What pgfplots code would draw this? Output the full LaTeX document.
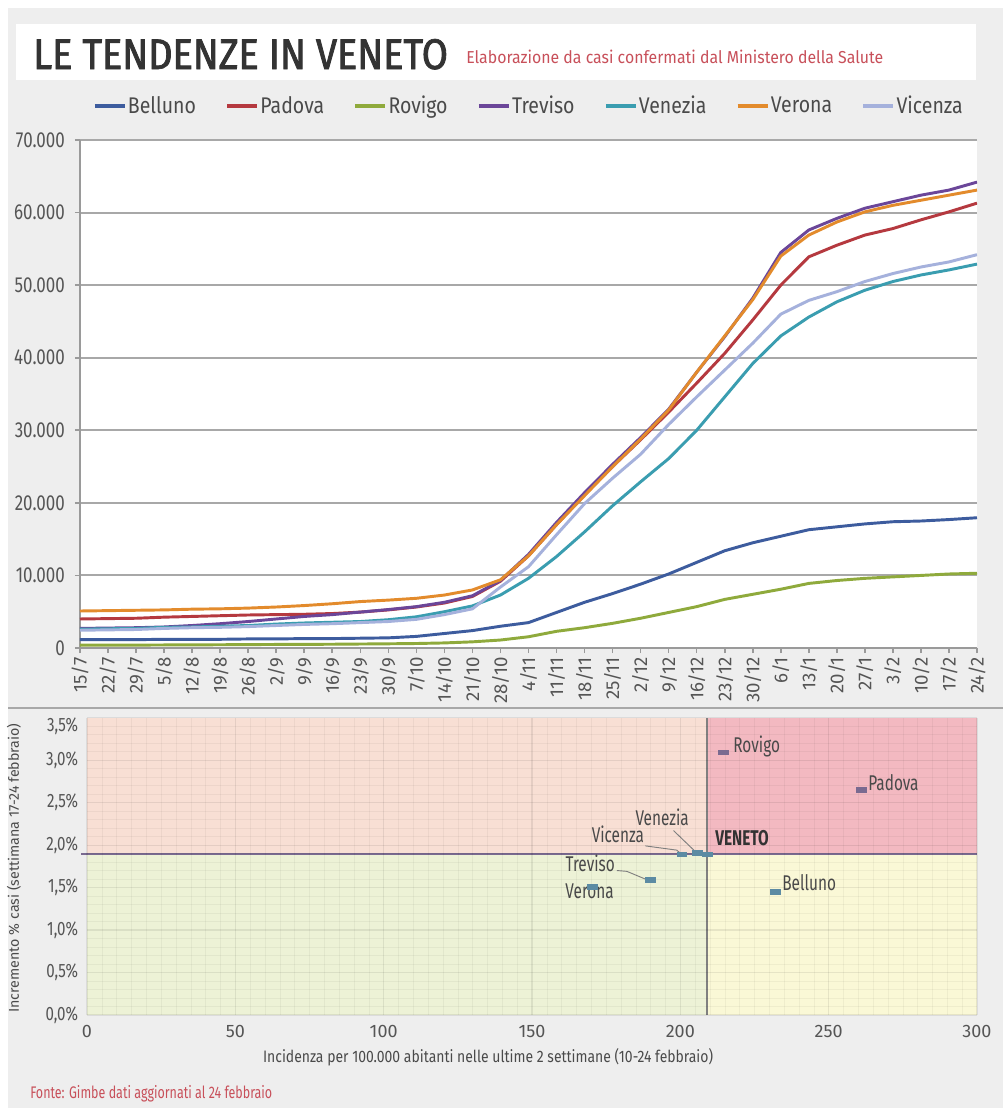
\documentclass[border=0pt]{standalone}
\usepackage{pgfplots}
\usepackage{pgfplotstable}
\pgfplotsset{compat=1.18}
\usepackage{fontspec}
\setmainfont{Fira Sans}
\newfontfamily\fN{Fira Sans}[FakeStretch=0.72]
\newfontfamily\fT{Fira Sans}[FakeStretch=0.72, FakeBold=1.6]
\newfontfamily\fY{Fira Sans}[FakeStretch=0.78]
\newfontfamily\fL{Fira Sans}[FakeStretch=0.86]

\definecolor{bg}{HTML}{EEEEEE}
\definecolor{titlec}{HTML}{333333}
\definecolor{subc}{HTML}{C8505A}
\definecolor{tickc}{HTML}{555555}
\definecolor{gridc}{HTML}{A8A8A8}
\definecolor{axc}{HTML}{9A9A9A}
\definecolor{cBelluno}{HTML}{3D5C9E}
\definecolor{cPadova}{HTML}{B5393F}
\definecolor{cRovigo}{HTML}{8FAA3C}
\definecolor{cTreviso}{HTML}{6B4699}
\definecolor{cVenezia}{HTML}{3A9DB0}
\definecolor{cVerona}{HTML}{E38B2C}
\definecolor{cVicenza}{HTML}{A5B1DC}
\definecolor{qTL}{HTML}{F8DFD4}
\definecolor{qTR}{HTML}{F3B9C1}
\definecolor{qBL}{HTML}{EDF2D6}
\definecolor{qBR}{HTML}{FAF8D6}
\definecolor{mkA}{HTML}{7A6A90}
\definecolor{mkB}{HTML}{5C8BA3}
\definecolor{labc}{HTML}{4A4A4A}

% cumulative cases, weekly from 15/7 (day 0) to 24/2 (day 224)
\pgfplotstableread{
day Belluno Padova Rovigo Treviso Venezia Verona Vicenza
0   1150  4000  400   2700  2600  5100  2450
7   1150  4050  400   2750  2650  5150  2500
14  1150  4100  400   2800  2700  5200  2550
21  1200  4250  420   2900  2850  5250  2700
28  1200  4350  430   3100  2900  5350  2800
35  1200  4450  450   3350  3000  5400  2850
42  1250  4550  470   3650  3100  5500  2950
49  1250  4600  490   4000  3300  5650  3100
56  1300  4650  500   4350  3450  5850  3250
63  1300  4750  520   4600  3550  6100  3350
70  1350  4950  550   4950  3650  6400  3500
77  1400  5250  580   5300  3900  6600  3650
84  1600  5650  620   5700  4300  6850  3950
91  2000  6200  700   6300  5000  7300  4600
98  2400  7100  850   7200  5800  8000  5400
105 3000  9200  1100  9300  7300  9400  8400
112 3500  12700 1550  12900 9600  12700 11200
119 4900  17000 2300  17300 12600 17000 15600
126 6300  21100 2800  21400 16000 21000 19900
133 7500  25000 3400  25300 19600 25000 23400
140 8800  28700 4100  29000 22900 28800 26700
147 10200 32500 4900  32900 26100 32800 30800
154 11800 36500 5700  38000 30000 38000 34600
161 13400 40600 6700  42900 34600 43000 38300
168 14500 45200 7400  48200 39200 48000 42000
175 15400 50000 8100  54500 43000 54000 46000
182 16300 53900 8900  57600 45600 56900 47900
189 16700 55500 9300  59200 47700 58700 49100
196 17100 56900 9600  60600 49300 60100 50500
203 17400 57800 9800  61500 50500 61000 51600
210 17500 59000 10000 62400 51400 61700 52500
217 17700 60100 10200 63100 52100 62400 53200
224 17950 61300 10300 64200 52900 63100 54200
}\cases

\begin{document}
\begin{tikzpicture}[x=0.75pt,y=0.75pt]
% page and panels (1 unit = 1 reference pixel)
\fill[white] (0,0) rectangle (1003,-1108);
\fill[bg] (8,-8) rectangle (1003,-1108);
\fill[white] (16,-24) rectangle (976,-80);
\node[anchor=base west, inner sep=0pt, text=titlec] at (33,-69)
  {\resizebox{311pt}{22.5pt}{\fT LE TENDENZE IN VENETO}};
\node[anchor=base west, inner sep=0pt, text=subc] at (466,-63.5)
  {\resizebox{312.75pt}{10.1pt}{\fN Elaborazione da casi confermati dal Ministero della Salute}};
\draw[gridc, line width=1.9pt] (8,-708) -- (1003,-708);
\node[anchor=base west, inner sep=0pt, text=subc] at (30,-1098)
  {\resizebox{181.5pt}{9.8pt}{\fN Fonte: Gimbe dati aggiornati al 24 febbraio}};

% ---- top: cumulative cases
\begin{axis}[
    at={(60pt,-486pt)}, anchor=south west,
    scale only axis, width=672.75pt, height=381pt,
    xmin=0, xmax=224, ymin=0, ymax=70000,
    axis background/.style={fill=white},
    axis x line*=bottom, axis y line*=left,
    axis line style={draw=axc, line width=1.5pt},
    ymajorgrids, grid style={draw=gridc, line width=1.5pt},
    xtick={0,7,...,224},
    xticklabels={15/7,22/7,29/7,5/8,12/8,19/8,26/8,2/9,9/9,16/9,23/9,30/9,7/10,14/10,21/10,28/10,4/11,11/11,18/11,25/11,2/12,9/12,16/12,23/12,30/12,6/1,13/1,20/1,27/1,3/2,10/2,17/2,24/2},
    ytick={0,10000,...,70000},
    yticklabels={0,10.000,20.000,30.000,40.000,50.000,60.000,70.000},
    scaled y ticks=false,
    tick align=outside, major tick length=3.75pt,
    tick style={draw=axc, line width=1.2pt},
    xticklabel style={rotate=90, anchor=east, inner sep=0pt,
        font=\fontsize{14}{14}\selectfont, text=tickc},
    xticklabel shift=3pt,
    yticklabel style={anchor=east, inner sep=0pt,
        font=\fY\fontsize{16.3}{16.3}\selectfont, text=tickc},
    yticklabel shift=7.5pt,
    legend columns=7,
    legend style={at={(axis description cs:0.5,1.0675)}, anchor=center,
        draw=none, fill=none, inner sep=0pt,
        font=\fL\fontsize{17}{17}\selectfont,
        nodes={text=labc, inner sep=1pt},
        /tikz/every even column/.append style={column sep=21pt}},
    legend image code/.code={\draw[#1, line width=2.8pt] (0pt,0pt) -- (22.5pt,0pt);},
  ]
  \addplot[cBelluno, line width=2.2pt] table[x=day, y=Belluno] {\cases};
  \addlegendentry{Belluno}
  \addplot[cPadova, line width=2.2pt] table[x=day, y=Padova] {\cases};
  \addlegendentry{Padova}
  \addplot[cRovigo, line width=2.2pt] table[x=day, y=Rovigo] {\cases};
  \addlegendentry{Rovigo}
  \addplot[cTreviso, line width=2.2pt] table[x=day, y=Treviso] {\cases};
  \addlegendentry{Treviso}
  \addplot[cVenezia, line width=2.2pt] table[x=day, y=Venezia] {\cases};
  \addlegendentry{Venezia}
  \addplot[cVerona, line width=2.2pt] table[x=day, y=Verona] {\cases};
  \addlegendentry{Verona}
  \addplot[cVicenza, line width=2.2pt] table[x=day, y=Vicenza] {\cases};
  \addlegendentry{Vicenza}
\end{axis}

% ---- bottom: incidence vs weekly increment
\begin{axis}[
    at={(65.25pt,-761.25pt)}, anchor=south west,
    scale only axis, width=667.5pt, height=223.1pt,
    xmin=0, xmax=300, ymin=0, ymax=3.5,
    axis on top, clip=false,
    axis line style={draw=none},
    tick style={draw=none},
    xtick={0,50,...,300},
    xticklabels={0,50,100,150,200,250,300},
    ytick={0,0.5,...,3.5},
    yticklabels={{0,0\%},{0,5\%},{1,0\%},{1,5\%},{2,0\%},{2,5\%},{3,0\%},{\raisebox{-5.6pt}[\height][0pt]{3,5\%}}},
    minor x tick num=9, minor y tick num=4,
    xmajorgrids, ymajorgrids, xminorgrids, yminorgrids,
    major grid style={draw=black, opacity=0.08, line width=0.8pt},
    minor grid style={draw=black, opacity=0.045, line width=0.4pt},
    xticklabel style={inner sep=0pt, font=\fontsize{13.5}{13.5}\selectfont, text=tickc},
    xticklabel shift=7.5pt,
    yticklabel style={inner sep=0pt, font=\fY\fontsize{14.5}{14.5}\selectfont, text=tickc},
    yticklabel shift=6.5pt,
    xlabel={\resizebox{337.5pt}{10.5pt}{\fN Incidenza per 100.000 abitanti nelle ultime 2 settimane (10-24 febbraio)}},
    xlabel style={at={(axis description cs:0.4506,-0.141)}, anchor=center, inner sep=0pt, text=labc},
    ylabel={\resizebox{216.75pt}{9pt}{\fN Incremento \% casi (settimana 17-24 febbraio)}},
    ylabel style={at={(axis description cs:-0.082,0.494)}, anchor=center, inner sep=0pt, text=labc},
  ]
  % quadrants
  \addplot[draw=none, fill=qTL] coordinates {(0,3.5) (209,3.5)} \closedcycle;
  \addplot[draw=none, fill=qTR] coordinates {(209,3.5) (300,3.5)} \closedcycle;
  \addplot[draw=none, fill=qBL] coordinates {(0,1.89) (209,1.89)} \closedcycle;
  \addplot[draw=none, fill=qBR] coordinates {(209,1.89) (300,1.89)} \closedcycle;
  % thresholds (Veneto)
  \addplot[draw=mkA, line width=1.6pt] coordinates {(-2,1.89) (300,1.89)};
  \addplot[draw=gray, line width=1.6pt] coordinates {(209,0) (209,3.5)};
  % leader lines
  \addplot[draw=gray, line width=0.7pt] coordinates {(178.6,1.70) (182,1.69) (188.5,1.595)};
  \addplot[draw=gray, line width=0.7pt] coordinates {(188.2,1.99) (198.8,1.94) (200.3,1.895)};
  \addplot[draw=gray, line width=0.7pt] coordinates {(197.7,2.17) (205,1.925)};
  % provinces
  \addplot[only marks, mark=square*, mark size=1.6pt,
    mark options={xscale=2.3, fill=mkA, draw=mkA}] coordinates {(214.5,3.09) (261,2.65)};
  \addplot[only marks, mark=square*, mark size=1.6pt,
    mark options={xscale=2.3, fill=mkB, draw=mkB}] coordinates {
    (232,1.45) (189.8,1.59) (170.4,1.51) (200.5,1.89) (205.6,1.91) (209,1.89)};
  \begin{scope}[every node/.style={inner sep=0pt, text=labc, font=\fN\fontsize{16}{16}\selectfont}]
    \node[anchor=mid west] at (217.8,3.13) {Rovigo};
    \node[anchor=mid west] at (263.3,2.686) {Padova};
    \node[anchor=mid west] at (234.3,1.502) {Belluno};
    \node[anchor=mid east] at (178.0,1.726) {Treviso};
    \node[anchor=mid west] at (161.2,1.412) {Verona};
    \node[anchor=mid east] at (187.8,2.07) {Vicenza};
    \node[anchor=mid west] at (184.8,2.267) {Venezia};
    \node[anchor=mid west, text=titlec] at (211.7,2.035) {\bfseries VENETO};
  \end{scope}
\end{axis}
\end{tikzpicture}
\end{document}
